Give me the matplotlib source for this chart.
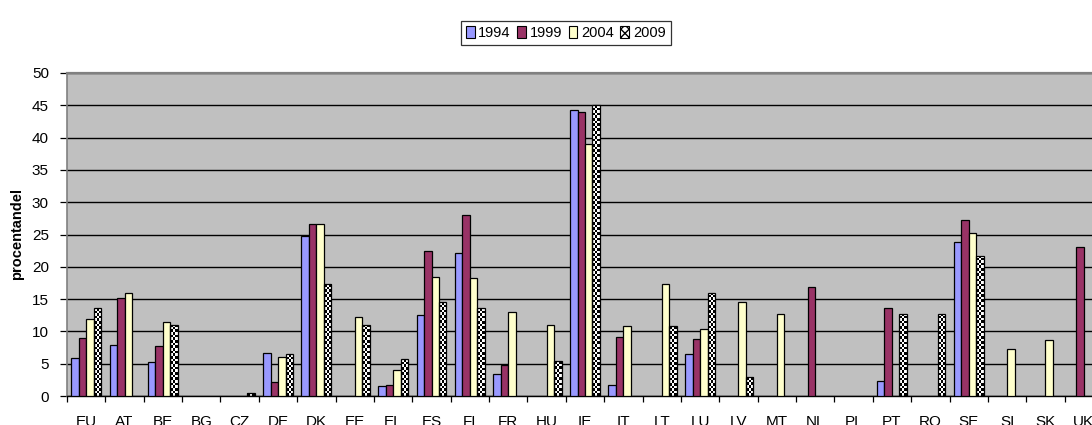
import numpy as np
import matplotlib
matplotlib.use("Agg")
import matplotlib.pyplot as plt
from matplotlib.patches import Patch

plt.rcParams["font.family"] = ["Liberation Sans", "DejaVu Sans"]

# ---------------------------------------------------------------------------
# Data (procentandel per land og år), NaN = ingen søjle
# ---------------------------------------------------------------------------
countries = ["EU", "AT", "BE", "BG", "CZ", "DE", "DK", "EE", "EL", "ES", "FI", "FR", "HU",
             "IE", "IT", "LT", "LU", "LV", "MT", "NL", "PL", "PT", "RO", "SE", "SI", "SK", "UK"]
years = ["1994", "1999", "2004", "2009"]
nan = np.nan

v1994 = [5.9, 7.9, 5.2, nan, nan, 6.7, 24.8, nan, 1.5, 12.5, 22.1, 3.45, nan,
         44.2, 1.75, nan, 6.5, nan, nan, nan, nan, 2.3, nan, 23.9, nan, nan, nan]
v1999 = [9.0, 15.2, 7.7, nan, nan, 2.1, 26.6, nan, 1.7, 22.4, 28.0, 4.85, nan,
         44.0, 9.1, nan, 8.8, nan, nan, 16.9, nan, 13.6, nan, 27.2, nan, nan, 23.1]
v2004 = [11.9, 16.0, 11.5, nan, nan, 6.0, 26.7, 12.3, 4.0, 18.4, 18.2, 13.0, 11.0,
         39.0, 10.8, 17.4, 10.3, 14.5, 12.7, nan, nan, nan, nan, 25.2, 7.2, 8.6, nan]
v2009 = [13.6, nan, 11.0, nan, 0.5, 6.5, 17.3, 11.0, 5.7, 14.5, 13.6, nan, 5.4,
         45.0, nan, 10.8, 16.0, 2.9, nan, nan, nan, 12.7, 12.7, 21.7, nan, nan, nan]

series = [v1994, v1999, v2004, v2009]
colors = ["#9999FF", "#993366", "#FFFFCC", "none"]

# ---------------------------------------------------------------------------
# Figur
# ---------------------------------------------------------------------------
W, H = 1092, 425
fig = plt.figure(figsize=(W / 100, H / 100), dpi=100)
fig.patch.set_facecolor("white")
ax_l, ax_b, ax_w, ax_h = 67, 29, 1036, 323
ax = fig.add_axes([ax_l / W, ax_b / H, ax_w / W, ax_h / H])
ax.set_facecolor("#C0C0C0")

x = np.arange(len(countries))
bw = 0.195
offsets = (np.arange(4) - 1.5) * bw

ax.set_xlim(-0.5, len(countries) - 0.5)
ax.set_ylim(0, 50)

containers = []
for vals, col, off in zip(series, colors, offsets):
    c = ax.bar(x + off, vals, bw, color=col, edgecolor="black", linewidth=0.9, zorder=3)
    containers.append(c)

# ternet (skakbræt) mønster for 2009
xppu = ax_w / len(countries)
yppu = ax_h / 50
cell = 2.6
for bar in containers[3]:
    h = bar.get_height()
    if not np.isfinite(h) or h <= 0:
        continue
    x0, w = bar.get_x(), bar.get_width()
    nx = max(1, int(round(w * xppu / cell)))
    ny = max(1, int(round(h * yppu / cell)))
    arr = np.add.outer(np.arange(ny), np.arange(nx)) % 2
    im = ax.imshow(arr, cmap="gray", extent=(x0, x0 + w, 0, h), origin="lower",
                   interpolation="nearest", aspect="auto", zorder=2)
    im.set_clip_path(bar)

ax.set_xlim(-0.5, len(countries) - 0.5)
ax.set_ylim(0, 50)

# gitterlinjer
ax.set_yticks(np.arange(0, 51, 5))
ax.yaxis.grid(True, color="black", linewidth=1.0, zorder=1)
ax.set_axisbelow(True)
ax.tick_params(axis="y", direction="out", length=5, width=0.9, pad=8, labelsize=11,
               color="black")

# x-akse: streger mellem landene, etiketter i midten
ax.set_xticks(np.arange(len(countries) + 1) - 0.5)
ax.set_xticklabels([])
ax.tick_params(axis="x", which="major", direction="out", length=4, width=0.9)
ax.set_xticks(x, minor=True)
ax.set_xticklabels(countries, minor=True)
ax.tick_params(axis="x", which="minor", length=0, pad=14, labelsize=11)

ax.spines["top"].set_color("#808080")
ax.spines["top"].set_linewidth(1.6)
ax.spines["left"].set_color("#808080")
ax.spines["left"].set_linewidth(1.2)
ax.spines["right"].set_visible(False)
ax.spines["bottom"].set_color("black")
ax.spines["bottom"].set_linewidth(1.0)

ax.set_ylabel("procentandel", fontsize=10.5, fontweight="bold", labelpad=6)

# legende
handles = [Patch(facecolor=colors[0], edgecolor="black", linewidth=0.8),
           Patch(facecolor=colors[1], edgecolor="black", linewidth=0.8),
           Patch(facecolor=colors[2], edgecolor="black", linewidth=0.8),
           Patch(facecolor="white", edgecolor="black", linewidth=0.8, hatch="xxxx")]
leg = fig.legend(handles, years, loc="center", bbox_to_anchor=(0.518, 0.922), ncol=4,
                 fontsize=10.5, frameon=True, fancybox=False, edgecolor="black",
                 handlelength=0.6, handleheight=0.9, handletextpad=0.25,
                 columnspacing=0.45, borderpad=0.35, borderaxespad=0)
leg.get_frame().set_linewidth(0.9)

fig.savefig("out.png", dpi=100, facecolor="white")
